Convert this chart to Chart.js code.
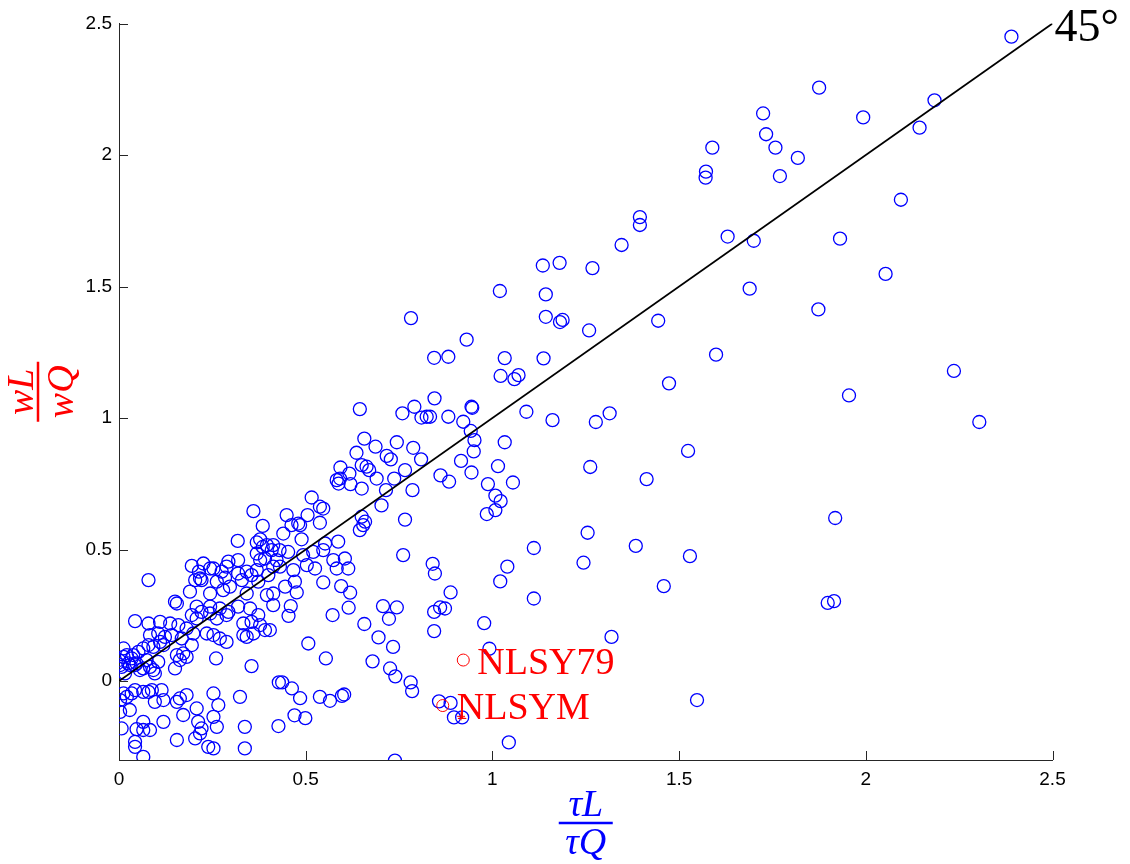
<!DOCTYPE html>
<html>
<head>
<meta charset="utf-8">
<script src="https://cdn.jsdelivr.net/npm/chart.js@4.4.0/dist/chart.umd.min.js"></script>
<style>
html, body { margin: 0; padding: 0; background: #fff; }
</style>
</head>
<body>
<canvas id="mycanvas" width="1130" height="864"></canvas>
<script>
// axis ranges and ticks
var xMin = 0, xMax = 2.5, yMin = -0.3, yMax = 2.5;
var xTicks = [0, 0.5, 1, 1.5, 2, 2.5];
var yTicks = [0, 0.5, 1, 1.5, 2, 2.5];

// 45 degree reference line
var diagX = [0, 2.5];
var diagY = [0, 2.5];

// highlighted surveys (red)
var surveyNames = ["NLSY79", "NLSYM"];
var surveyX = [0.922, 0.867];
var surveyY = [0.080, -0.093];
var crossX = [0.916];
var crossY = [-0.134];

// blue circles: [tauL/tauQ, wL/wQ]
var blueXY = [
  // upper right, sparse
  [2.39,2.45],[1.875,2.256],[1.725,2.158],[1.733,2.079],[1.758,2.028],[1.589,2.028],[1.572,1.937],
  [1.571,1.914],[1.818,1.989],[1.770,1.92],[1.993,2.143],[2.184,2.208],[2.144,2.104],[1.395,1.764],
  [1.395,1.734],[1.63,1.69],[1.70,1.674],[1.931,1.682],[2.094,1.83],[2.053,1.548],[1.689,1.492],
  [1.873,1.413],[1.444,1.37],[1.599,1.241],[1.473,1.132],[1.955,1.086],[2.236,1.179],[2.304,0.985],
  // lower right
  [1.524,0.875],[1.413,0.768],[1.918,0.62],[1.529,0.475],[1.459,0.361],[1.898,0.297],[1.915,0.304],
  [1.548,-0.072],
  // middle
  [1.135,1.58],[1.18,1.59],[1.268,1.57],[1.346,1.658],[0.782,1.38],
  [1.02,1.483],[1.143,1.47],[1.143,1.385],[1.181,1.365],[1.188,1.373],[1.259,1.333],[0.931,1.298],
  [0.844,1.229],[0.882,1.233],[1.033,1.228],[1.137,1.227],[1.022,1.16],[1.059,1.148],[1.07,1.163],
  [0.845,1.075],[0.833,1.005],[0.882,1.005],[0.944,1.043],[0.946,1.039],[0.922,0.986],[0.942,0.951],
  [0.952,0.916],[0.95,0.873],[0.916,0.837],[1.033,0.908],[1.091,1.024],[1.161,0.992],[1.277,0.985],
  [1.314,1.018],[1.262,0.814],[0.944,0.793],[0.861,0.782],[0.884,0.758],[1.015,0.817],[0.988,0.749],
  [1.008,0.705],[1.022,0.684],[1.008,0.65],[0.985,0.635],[1.055,0.755],[1.255,0.564],[1.111,0.506],
  [1.384,0.514],[1.244,0.45],[1.04,0.435],[1.021,0.379],[1.111,0.314],[0.84,0.446],[0.846,0.409],
  [0.888,0.337],[0.86,0.28],[0.873,0.276],[0.844,0.263],[0.844,0.19],[0.978,0.22],[0.992,0.123],
  [1.319,0.168],[0.857,-0.077],[0.888,-0.083],[0.897,-0.138],[0.919,-0.138],[1.044,-0.233],
  // band 0.4 - 0.85
  [0.645,1.034],[0.759,1.018],[0.791,1.043],[0.81,1.002],[0.824,1.005],[0.657,0.922],[0.687,0.891],
  [0.744,0.908],[0.788,0.887],[0.809,0.843],[0.717,0.856],[0.728,0.843],[0.636,0.868],[0.65,0.821],
  [0.663,0.815],[0.67,0.802],[0.617,0.789],[0.593,0.812],[0.69,0.77],[0.737,0.77],[0.766,0.802],
  [0.583,0.764],[0.592,0.77],[0.588,0.751],[0.62,0.749],[0.65,0.732],[0.715,0.726],[0.786,0.726],
  [0.516,0.698],[0.538,0.663],[0.547,0.656],[0.703,0.668],[0.449,0.631],[0.462,0.593],[0.48,0.599],
  [0.485,0.593],[0.505,0.631],[0.538,0.602],[0.44,0.561],[0.489,0.539],[0.65,0.625],[0.659,0.606],
  [0.654,0.593],[0.645,0.574],[0.766,0.614],[0.761,0.479],[0.587,0.53],[0.552,0.523],[0.413,0.517],
  [0.453,0.491],[0.52,0.491],[0.547,0.498],[0.493,0.479],[0.422,0.46],[0.431,0.435],[0.574,0.46],
  [0.605,0.466],[0.614,0.428],[0.583,0.428],[0.503,0.441],[0.525,0.428],[0.467,0.422],
  // band 0.2 - 0.4
  [0.36,0.646],[0.385,0.59],[0.318,0.533],[0.369,0.527],[0.378,0.539],[0.396,0.517],[0.293,0.454],
  [0.319,0.46],[0.195,0.438],[0.226,0.447],[0.244,0.428],[0.378,0.46],[0.391,0.466],[0.369,0.485],
  [0.385,0.51],[0.409,0.498],[0.43,0.498],[0.253,0.428],[0.275,0.416],[0.288,0.435],[0.214,0.416],
  [0.217,0.39],[0.204,0.384],[0.221,0.384],[0.319,0.409],[0.329,0.384],[0.342,0.416],[0.355,0.403],
  [0.369,0.422],[0.373,0.378],[0.4,0.403],[0.413,0.435],
  // below the line, 0.4 - 0.8
  [0.547,0.375],[0.595,0.361],[0.619,0.336],[0.615,0.279],[0.572,0.251],[0.707,0.285],[0.744,0.28],
  [0.723,0.237],[0.657,0.217],[0.695,0.166],[0.734,0.13],[0.679,0.075],[0.726,0.048],[0.74,0.018],
  [0.781,-0.005],[0.785,-0.038],[0.507,0.143],[0.554,0.086],[0.428,-0.005],[0.437,-0.005],
  [0.463,-0.028],[0.485,-0.065],[0.538,-0.06],[0.565,-0.075],[0.597,-0.056],[0.603,-0.051],
  [0.47,-0.13],[0.499,-0.141],[0.427,-0.171],[0.739,-0.302],[0.413,0.333],[0.413,0.289],[0.46,0.285],
  [0.454,0.248],[0.445,0.359],[0.471,0.378],[0.476,0.337],[0.404,0.194],
  // dense lower left
  [0.079,0.384],[0.262,0.378],[0.284,0.393],
  [0.19,0.34],[0.244,0.333],[0.279,0.346],[0.297,0.359],[0.342,0.333],[0.15,0.302],[0.155,0.295],
  [0.208,0.283],[0.221,0.263],[0.195,0.251],[0.244,0.283],[0.27,0.276],[0.293,0.263],[0.319,0.283],
  [0.351,0.276],[0.373,0.251],[0.396,0.327],[0.043,0.228],[0.079,0.219],[0.11,0.225],[0.137,0.219],
  [0.159,0.213],[0.181,0.2],[0.208,0.238],[0.244,0.257],[0.262,0.238],[0.288,0.251],[0.333,0.219],
  [0.355,0.225],[0.378,0.213],[0.391,0.194],[0.083,0.175],[0.105,0.181],[0.123,0.168],[0.141,0.175],
  [0.168,0.162],[0.199,0.181],[0.235,0.181],[0.253,0.175],[0.27,0.162],[0.288,0.149],[0.333,0.175],
  [0.342,0.168],[0.36,0.181],
  // around the origin
  [0.012,0.124],[0.0,0.08],[0.003,0.061],[0.021,0.099],[0.034,0.086],[0.052,0.111],[0.065,0.124],
  [0.079,0.137],[0.092,0.13],[0.11,0.149],[0.119,0.137],[0.029,0.061],[0.047,0.067],[0.065,0.048],
  [0.074,0.08],[0.083,0.054],[0.096,0.029],[0.092,0.042],[0.105,0.073],[0.155,0.099],[0.163,0.08],
  [0.15,0.048],[0.172,0.105],[0.195,0.137],[0.181,0.092],[0.26,0.086],[0.355,0.057],
  [0.007,0.054],[0.016,0.029],[0.038,0.099],[0.056,0.042],[0.012,0.092],[0.025,0.067],[0.043,0.061],
  // below zero, left
  [0.012,-0.047],[0.021,-0.06],[0.003,-0.072],[0.034,-0.047],[0.043,-0.034],[0.079,-0.041],
  [0.088,-0.034],[0.114,-0.034],[0.119,-0.072],[0.096,-0.079],[0.065,-0.041],[0.003,-0.117],
  [0.029,-0.11],[0.007,-0.18],[0.155,-0.079],[0.163,-0.066],[0.181,-0.053],[0.172,-0.129],
  [0.208,-0.104],[0.212,-0.155],[0.221,-0.18],[0.217,-0.199],[0.253,-0.047],[0.266,-0.091],
  [0.253,-0.136],[0.262,-0.174],[0.239,-0.25],[0.253,-0.256],[0.204,-0.218],[0.155,-0.224],
  [0.324,-0.06],[0.337,-0.174],[0.337,-0.256],[0.119,-0.155],[0.047,-0.183],[0.065,-0.186],
  [0.083,-0.186],[0.043,-0.231],[0.043,-0.25],[0.065,-0.288],[0.065,-0.155]
];

var blueData = blueXY.map(function(p){ return {x: p[0], y: p[1]}; });
var diagData = diagX.map(function(v, i){ return {x: v, y: diagY[i]}; });
var surveyData = surveyX.map(function(v, i){ return {x: v, y: surveyY[i]}; });
var crossData = crossX.map(function(v, i){ return {x: v, y: crossY[i]}; });

var axisColor = "#262626";

// inward ticks, fraction axis labels and text annotations
var decor = {
  id: "decor",
  afterDraw: function(chart) {
    var ctx = chart.ctx;
    var a = chart.chartArea;
    var xs = chart.scales.x, ys = chart.scales.y;
    ctx.save();
    ctx.strokeStyle = axisColor;
    ctx.lineWidth = 1;
    ctx.beginPath();
    xTicks.forEach(function(v){
      var px = Math.round(xs.getPixelForValue(v)) + 0.5;
      ctx.moveTo(px, a.bottom); ctx.lineTo(px, a.bottom - 9);
    });
    yTicks.forEach(function(v){
      var py = Math.round(ys.getPixelForValue(v)) + 0.5;
      ctx.moveTo(a.left, py); ctx.lineTo(a.left + 9, py);
    });
    ctx.stroke();

    // survey names
    ctx.fillStyle = "#ff0000";
    ctx.font = '38px "Liberation Serif"';
    ctx.textAlign = "left";
    ctx.textBaseline = "alphabetic";
    surveyNames.forEach(function(name, i){
      ctx.fillText(name, xs.getPixelForValue(surveyX[i]) + 14, ys.getPixelForValue(surveyY[i]) + 13.5);
    });

    // 45 degree label at end of line
    ctx.fillStyle = "#000";
    ctx.font = '46px "Liberation Serif"';
    ctx.fillText("45\u00B0", xs.getPixelForValue(diagX[1]) + 2, ys.getPixelForValue(diagY[1]) + 17);

    // x axis label: tau L over tau Q
    ctx.font = 'italic 38px "Liberation Serif"';
    ctx.textAlign = "center";
    var cx = (a.left + a.right) / 2;
    var barY = a.bottom + 63;
    ctx.fillStyle = "#0000ff";
    ctx.strokeStyle = "#0000ff";
    ctx.fillText("\u03C4L", cx, barY - 7);
    ctx.fillText("\u03C4Q", cx, barY + 31);
    ctx.lineWidth = 2.5;
    ctx.beginPath();
    ctx.moveTo(cx - 27, barY); ctx.lineTo(cx + 27, barY);
    ctx.stroke();

    // y axis label: wL over wQ, rotated
    var cy = (a.top + a.bottom) / 2;
    ctx.translate(38, cy);
    ctx.rotate(-Math.PI / 2);
    ctx.fillStyle = "#ff0000";
    ctx.strokeStyle = "#ff0000";
    ctx.fillText("wL", 0, -5);
    ctx.fillText("wQ", 0, 35);
    ctx.beginPath();
    ctx.moveTo(-30, 0); ctx.lineTo(30, 0);
    ctx.stroke();
    ctx.restore();
  }
};

var ctx = document.getElementById("mycanvas");

var ScatterGraph = new Chart(ctx, {
  type: "scatter",
  data: {
    datasets: [
      {
        label: "45 degree",
        type: "line",
        data: diagData,
        borderColor: "#000",
        borderWidth: 1.8,
        pointRadius: 0,
        fill: false,
        order: 0
      },
      {
        label: "surveys",
        data: surveyData,
        borderColor: "#ff0000",
        backgroundColor: "rgba(0,0,0,0)",
        borderWidth: 1,
        pointRadius: 6,
        order: 0
      },
      {
        label: "marker",
        data: crossData,
        pointStyle: "cross",
        borderColor: "#ff0000",
        borderWidth: 1,
        pointRadius: 4,
        order: 0
      },
      {
        label: "states",
        data: blueData,
        borderColor: "#0000ff",
        backgroundColor: "rgba(0,0,0,0)",
        borderWidth: 1.3,
        pointRadius: 6.5,
        order: 1
      }
    ]
  },
  options: {
    responsive: false,
    animation: false,
    layout: { padding: { top: 23.5, right: 77.5, left: 0, bottom: 0 } },
    scales: {
      x: {
        type: "linear",
        min: xMin,
        max: xMax,
        afterBuildTicks: function(s){ s.ticks = xTicks.map(function(v){ return {value: v}; }); },
        afterFit: function(s){ s.height = 104; },
        grid: { display: false, drawTicks: false },
        border: { display: true, color: axisColor, width: 1 },
        ticks: {
          padding: 8,
          color: "#000",
          font: { family: "Liberation Sans", size: 19 },
          callback: function(v){ return String(v); }
        }
      },
      y: {
        type: "linear",
        min: yMin,
        max: yMax,
        afterBuildTicks: function(s){ s.ticks = yTicks.map(function(v){ return {value: v}; }); },
        afterFit: function(s){ s.width = 119; },
        grid: { display: false, drawTicks: false },
        border: { display: true, color: axisColor, width: 1 },
        ticks: {
          padding: 7,
          color: "#000",
          font: { family: "Liberation Sans", size: 19 },
          callback: function(v){ return String(v); }
        }
      }
    },
    plugins: {
      legend: { display: false },
      tooltip: { enabled: false }
    }
  },
  plugins: [decor]
});
</script>
</body>
</html>
